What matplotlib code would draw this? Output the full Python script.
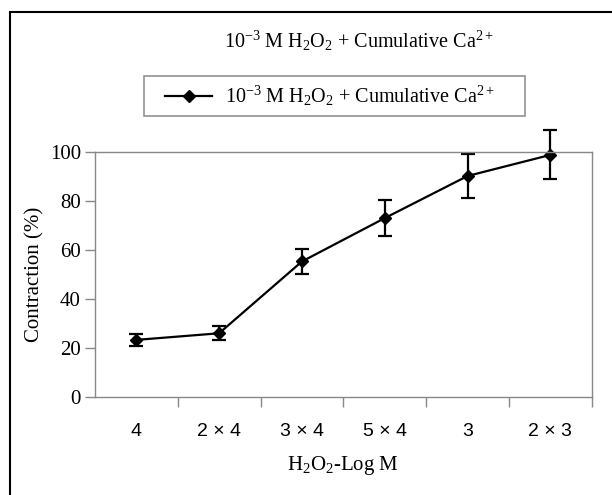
import matplotlib
matplotlib.use("Agg")
import matplotlib.pyplot as plt
from matplotlib.patches import Rectangle
from matplotlib.lines import Line2D
from matplotlib.legend_handler import HandlerLine2D

plt.rcParams['font.family'] = ['Liberation Serif', 'DejaVu Serif']
plt.rcParams['mathtext.fontset'] = 'custom'
plt.rcParams['mathtext.rm'] = 'Liberation Serif'
plt.rcParams['mathtext.it'] = 'Liberation Serif:italic'
plt.rcParams['mathtext.default'] = 'regular'

categories = ['4', '2 × 4', '3 × 4', '5 × 4', '3', '2 × 3']
contraction = [23.3, 26.0, 55.3, 73.0, 90.2, 98.8]
errors = [2.3, 2.8, 5.0, 7.5, 9.0, 10.0]
series_label = r'10$^{-3}$ M H$_2$O$_2$ + Cumulative Ca$^{2+}$'
yticks = [0, 20, 40, 60, 80, 100]

fig = plt.figure(figsize=(6.12, 4.95), dpi=100)
ax = fig.add_axes([0.155, 0.198, 0.812, 0.495])

x = list(range(len(categories)))
ax.errorbar(x, contraction, yerr=errors, color='black', marker='D',
            markersize=6.5, linewidth=1.6, elinewidth=1.6, capsize=5,
            capthick=1.6, clip_on=False)

ax.set_xlim(-0.5, len(categories) - 0.5)
ax.set_ylim(0, 100)
ax.set_yticks(yticks)
ax.set_xticks(x)
ax.set_xticklabels(categories, family=['Liberation Sans', 'DejaVu Sans'], fontsize=14)
ax.tick_params(axis='x', which='major', length=0, pad=19)
ax.set_xticks([i + 0.5 for i in x], minor=True)
ax.tick_params(axis='x', which='minor', length=7, color='#888888', width=1, direction='out')
ax.tick_params(axis='y', length=7, color='#888888', width=1, direction='out', labelsize=15, pad=3)
for s in ax.spines.values():
    s.set_color('#888888')
    s.set_linewidth(1)

ax.set_ylabel('Contraction (%)', fontsize=15, labelpad=4)
ax.set_xlabel(r'H$_2$O$_2$-Log M', fontsize=15, labelpad=10)

fig.text(0.586, 0.918, series_label, fontsize=14.5, ha='center', va='center')

proxy = Line2D([], [], color='black', marker='D', markersize=6.5, linewidth=1.6)
leg = fig.legend(handles=[proxy], labels=[series_label], loc='center',
                 bbox_to_anchor=(144 / 612, 1 - 116 / 495, 381 / 612, 40 / 495),
                 mode='expand', fontsize=14.5, frameon=True,
                 fancybox=False, edgecolor='#777777', handlelength=3.0,
                 handletextpad=0.6, borderpad=0.4, borderaxespad=0,
                 handler_map={Line2D: HandlerLine2D(xpad=0.65)})
leg.get_frame().set_linewidth(1.2)

fig.patches.append(Rectangle((10 / 612, -0.1), 1.2, 1 - 12 / 495 + 0.1,
                             transform=fig.transFigure, fill=False,
                             edgecolor='black', linewidth=1.5))

fig.savefig('out.png', dpi=100, facecolor='white')
